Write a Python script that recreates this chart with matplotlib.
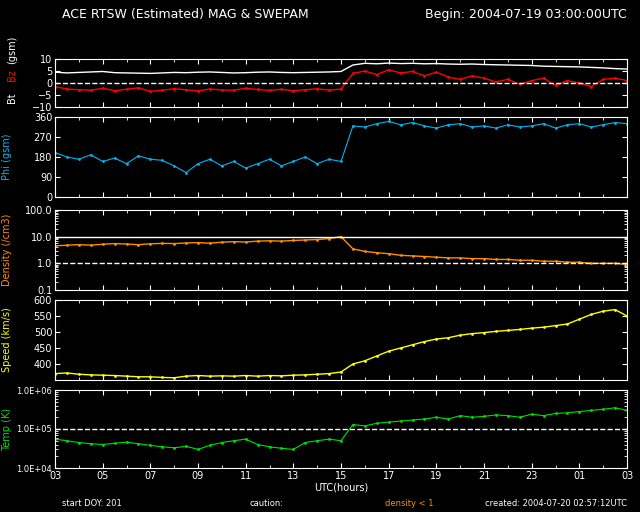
import matplotlib
matplotlib.use("Agg")
import matplotlib.pyplot as plt
import numpy as np

# hours after 2004-07-19 03:00 UTC, read roughly every half hour
hrs = [0, 0.5, 1, 1.5, 2, 2.5, 3, 3.5, 4, 4.5, 5, 5.5, 6, 6.5, 7, 7.5, 8, 8.5, 9, 9.5,
       10, 10.5, 11, 11.5, 12, 12.5, 13, 13.5, 14, 14.5, 15, 15.5, 16, 16.5, 17, 17.5,
       18, 18.5, 19, 19.5, 20, 20.5, 21, 21.5, 22, 22.5, 23, 23.5, 24]
bt = [4.5, 4.2, 4.4, 4.6, 4.8, 4.3, 4.2, 4.1, 4.0, 4.2, 4.4, 4.3, 4.5, 4.6, 4.4, 4.2, 4.3, 4.5,
      4.6, 4.4, 4.3, 4.4, 4.5, 4.6, 4.8, 7.5, 8.2, 8.0, 8.3, 8.1, 8.2, 8.0, 8.1, 7.9, 7.8, 7.9,
      7.7, 7.6, 7.5, 7.4, 7.3, 7.0, 6.9, 6.8, 6.7, 6.5, 6.3, 6.0, 5.8]
bz = [-1.5, -2.5, -2.8, -3.0, -2.2, -3.2, -2.6, -2.0, -3.5, -3.0, -2.4, -2.8, -3.3, -2.5, -2.9,
      -3.0, -2.2, -2.7, -3.1, -2.6, -3.2, -2.8, -2.4, -3.0, -2.5, 4.0, 5.0, 3.5, 5.5, 4.2, 4.8,
      3.0, 4.5, 2.5, 1.5, 3.0, 2.0, 0.5, 1.5, -0.5, 1.0, 2.0, -1.0, 1.0, 0.0, -1.5, 1.5, 2.0, 1.0]
phi = [200, 180, 170, 190, 160, 175, 150, 185, 170, 165, 140, 110, 150, 170, 140, 160, 130, 150,
       170, 140, 160, 180, 150, 170, 160, 320, 315, 330, 340, 325, 335, 320, 310, 325, 330, 315,
       320, 310, 325, 315, 320, 330, 310, 325, 330, 315, 325, 335, 330]
dens = [4.5, 4.8, 5.0, 4.8, 5.2, 5.5, 5.3, 5.0, 5.4, 5.6, 5.5, 5.8, 6.0, 5.7, 6.2, 6.5, 6.3, 6.8,
        7.0, 6.8, 7.2, 7.5, 7.8, 8.5, 10.0, 3.5, 2.8, 2.5, 2.3, 2.0, 1.9, 1.8, 1.7, 1.6, 1.6,
        1.5, 1.5, 1.4, 1.4, 1.3, 1.3, 1.2, 1.2, 1.1, 1.1, 1.0, 1.0, 1.0, 0.9]
speed = [370, 372, 368, 366, 365, 364, 362, 360, 360, 358, 357, 362, 364, 362, 363, 362, 364, 362,
         364, 363, 365, 366, 368, 370, 375, 400, 410, 425, 440, 450, 460, 470, 478, 482, 490, 495,
         498, 502, 505, 508, 512, 515, 520, 525, 540, 555, 565, 570, 550]
temp = [5.5e4, 5.0e4, 4.5e4, 4.2e4, 4.0e4, 4.3e4, 4.6e4, 4.2e4, 3.8e4, 3.5e4, 3.3e4, 3.6e4,
        3.0e4, 3.8e4, 4.5e4, 5.0e4, 5.5e4, 4.0e4, 3.5e4, 3.2e4, 3.0e4, 4.5e4, 5.0e4, 5.5e4,
        5.0e4, 1.3e5, 1.2e5, 1.4e5, 1.5e5, 1.6e5, 1.7e5, 1.8e5, 2.0e5, 1.8e5, 2.2e5, 2.0e5,
        2.1e5, 2.3e5, 2.2e5, 2.0e5, 2.4e5, 2.2e5, 2.5e5, 2.6e5, 2.8e5, 3.0e5, 3.2e5, 3.5e5, 3.0e5]
xticklabels = ["03", "05", "07", "09", "11", "13", "15", "17", "19", "21", "23", "01", "03"]

plt.rcParams["font.family"] = "DejaVu Sans"
fig = plt.figure(figsize=(6.4, 5.12), dpi=100, facecolor="black")

panels = [  # bottom, height in figure fraction
    (1 - 107 / 512, 48 / 512),
    (1 - 197 / 512, 80 / 512),
    (1 - 290 / 512, 80 / 512),
    (1 - 380 / 512, 80 / 512),
    (1 - 468 / 512, 78 / 512),
]
left, width = 55 / 640, 572 / 640
axes = []
for b, h in panels:
    ax = fig.add_axes([left, b, width, h], facecolor="black")
    for s in ax.spines.values():
        s.set_color("white")
    ax.tick_params(colors="white", labelsize=7, direction="in", which="both",
                   right=True, top=True, pad=2)
    ax.set_xlim(0, 24)
    ax.set_xticks(range(0, 25, 2))
    ax.set_xticks(range(0, 25), minor=True)
    ax.set_xticklabels([])
    axes.append(ax)

ax = axes[0]
ax.plot(hrs, bt, color="white", lw=1)
ax.plot(hrs, bz, color="red", lw=1, marker=".", ms=2)
ax.axhline(0, color="white", ls="--", lw=1)
ax.set_ylim(-10, 10)
ax.set_yticks([-10, -5, 0, 5, 10])
for txt, col, yy in [("Bt", "white", 0.2), ("Bz", "red", 0.67), ("(gsm)", "white", 1.2)]:
    ax.text(-0.075, yy, txt, color=col, fontsize=7, rotation=90, transform=ax.transAxes,
            ha="center", va="center")

ax = axes[1]
ax.plot(hrs, phi, color="#00b4f0", lw=0.8, marker=".", ms=2)
ax.set_ylim(0, 360)
ax.set_yticks([0, 90, 180, 270, 360])
ax.set_ylabel("Phi (gsm)", color="#00b4f0", fontsize=7)

ax = axes[2]
ax.plot(hrs, dens, color="#ff8c00", lw=1, marker=".", ms=2)
ax.set_yscale("log")
ax.set_ylim(0.1, 100)
ax.set_yticks([0.1, 1, 10, 100])
ax.set_yticklabels(["0.1", "1.0", "10.0", "100.0"])
ax.axhline(1, color="white", ls="--", lw=1)
ax.axhline(10, color="white", lw=1)
ax.set_ylabel("Density (/cm3)", color="#ff8c00", fontsize=7)

ax = axes[3]
ax.plot(hrs, speed, color="yellow", lw=1, marker=".", ms=2)
ax.set_ylim(350, 600)
ax.set_yticks(range(400, 601, 50))
ax.set_ylabel("Speed (km/s)", color="yellow", fontsize=7)

ax = axes[4]
ax.plot(hrs, temp, color="#00e000", lw=0.8, marker=".", ms=2)
ax.set_yscale("log")
ax.set_ylim(1e4, 1e6)
ax.set_yticks([1e4, 1e5, 1e6])
ax.set_yticklabels(["1.0E+04", "1.0E+05", "1.0E+06"], fontsize=6)
ax.axhline(1e5, color="white", ls="--", lw=1)
ax.set_ylabel("Temp (K)", color="#00e000", fontsize=7)
ax.set_xticklabels(xticklabels)
ax.set_xlabel("UTC(hours)", color="white", fontsize=7, labelpad=1)

for a in axes[1:]:
    a.yaxis.set_label_coords(-0.075, 0.5)

fig.text(62 / 640, 1 - 18 / 512, "ACE RTSW (Estimated) MAG & SWEPAM", color="white", fontsize=9)
fig.text(627 / 640, 1 - 18 / 512, "Begin: 2004-07-19 03:00:00UTC", color="white",
         fontsize=9, ha="right")
fig.text(62 / 640, 1 - 506 / 512, "start DOY: 201", color="white", fontsize=6)
fig.text(250 / 640, 1 - 506 / 512, "caution:", color="white", fontsize=6)
fig.text(385 / 640, 1 - 506 / 512, "density < 1", color="#ff8c00", fontsize=6)
fig.text(627 / 640, 1 - 506 / 512, "created: 2004-07-20 02:57:12UTC", color="white",
         fontsize=6, ha="right")

fig.savefig("out.png", dpi=100, facecolor="black")
